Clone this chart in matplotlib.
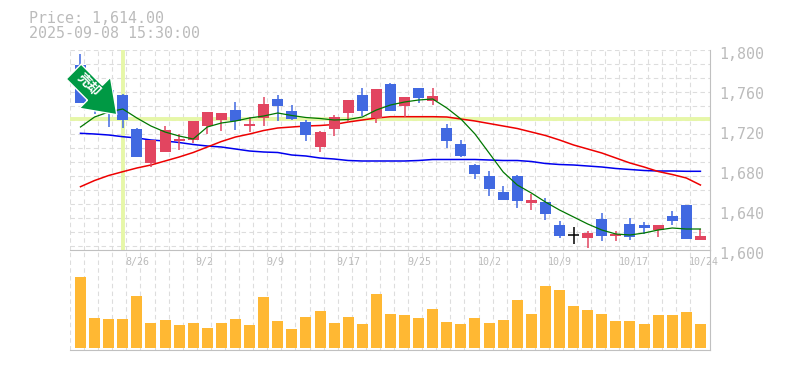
import matplotlib
matplotlib.use('Agg')
import matplotlib.pyplot as plt
from matplotlib.patches import Polygon, Rectangle
from matplotlib.transforms import Affine2D

# 45 daily candles
opens = [1785, 1750, 1760, 1755, 1720.7, 1687.3, 1698.3, 1709, 1710, 1724.3, 1730, 1740, 1724, 1732, 1751,
         1739, 1728, 1703, 1721, 1737, 1755, 1732, 1766, 1744, 1762, 1749, 1722, 1706, 1685, 1674,
         1658, 1674, 1647.3, 1648, 1625, 1615, 1612, 1631, 1614, 1626, 1625, 1620, 1634, 1645, 1610]
closes = [1747, 1740, 1740, 1730, 1693.3, 1710, 1720, 1711, 1729, 1738, 1737, 1729, 1726, 1746, 1744,
          1731, 1715, 1718, 1733, 1750, 1739, 1761, 1739, 1753, 1752, 1754, 1709, 1694, 1676, 1661,
          1650, 1649, 1650, 1636, 1614, 1615, 1617, 1614, 1616, 1613, 1622, 1625, 1629, 1611, 1614]
highs = [1796, 1750, 1760, 1756, 1722, 1710, 1724, 1716, 1729, 1738, 1737, 1747.7, 1732.7, 1753, 1755,
         1745, 1730, 1719, 1735, 1750, 1762, 1761, 1767, 1753, 1762, 1762, 1726, 1710, 1686, 1679,
         1664, 1675, 1656, 1652, 1629, 1623, 1619, 1637, 1619, 1632, 1628, 1625, 1639, 1645, 1621]
lows = [1747, 1736, 1723, 1722, 1693, 1683.3, 1698, 1700, 1707, 1716, 1719, 1720, 1718, 1724, 1729,
        1730, 1709, 1698, 1714, 1728, 1734, 1727, 1739, 1733, 1747, 1745, 1702, 1693, 1671, 1654,
        1650, 1642, 1640, 1630, 1612, 1606, 1602, 1609, 1609, 1610, 1616, 1613, 1625, 1611, 1610]

ma_short = [1723, 1733, 1738, 1741, 1732, 1724, 1718, 1714, 1711, 1723, 1727, 1729, 1732, 1734, 1737,
            1734.5, 1732.5, 1731.5, 1730, 1730.5, 1733, 1740, 1745, 1748, 1750, 1751, 1742, 1731, 1716, 1697,
            1678, 1665, 1657, 1648, 1640, 1633, 1626, 1620, 1616, 1615, 1617, 1620, 1622, 1621, 1621]
ma_mid = [1663.3, 1669.5, 1674.5, 1678.3, 1682, 1685, 1689, 1693, 1697.5, 1703, 1708.5, 1713, 1716, 1719.5, 1722,
          1723, 1724, 1724.5, 1725.5, 1728, 1730, 1732, 1733.3, 1733.3, 1733.3, 1733.3, 1733, 1731, 1729, 1726.5,
          1724, 1721.5, 1718, 1714.5, 1710, 1705, 1701, 1697, 1692, 1687, 1683, 1678.5, 1675.5, 1672, 1665]
ma_long = [1716.7, 1716, 1715, 1713.3, 1712, 1710, 1709, 1707.5, 1705.5, 1704, 1703, 1701, 1699, 1698, 1697.5,
           1695, 1694, 1692, 1691, 1689.5, 1689, 1689, 1689, 1689, 1689.5, 1690.5, 1690.5, 1690.5, 1690.5, 1690,
           1689.5, 1689.5, 1688.5, 1686.5, 1685.5, 1685, 1684, 1683, 1681.5, 1680.5, 1679.5, 1679, 1679, 1678.7, 1678.7]

volumes = [71, 30, 29, 29, 52, 25, 28, 23, 25, 20, 25, 29, 23, 51, 27, 19, 31, 37, 25, 31, 24, 54, 34,
           33, 30, 39, 26, 24, 30, 25, 28, 48, 34, 62, 58, 42, 38, 34, 27, 27, 24, 33, 33, 36, 24]

date_labels = ['8/26', '9/2', '9/9', '9/17', '9/25', '10/2', '10/9', '10/17', '10/24']
date_idx = [4, 9, 14, 19, 24, 29, 34, 39, 44]
price_ticks = [1600, 1640, 1680, 1720, 1760, 1800]

cursor_idx = 3
cursor_price = 1731
arrow_tip = (2.58, 1735.3)

UP = '#e24560'
DOWN = '#4169e1'
GRAY = '#bbbbbb'
GRID = '#dddddd'
CURSOR = '#e6f7a8'

W, H = 785, 370
fig = plt.figure(figsize=(W / 100, H / 100), dpi=100)
price_ax = fig.add_axes([70 / W, 1 - 250 / H, 640 / W, 200 / H])
vol_ax = fig.add_axes([70 / W, 1 - 350 / H, 640 / W, 100 / H])

xlim = (-0.745, 44.68)
grid_x = [k - 0.745 for k in range(45)]
grid_y = [1800 - 14 * k for k in range(15)]

for ax in (price_ax, vol_ax):
    ax.set_xlim(xlim)
    ax.set_xticks([])
    ax.set_yticks([])
    ax.patch.set_alpha(0)
    ax.spines['top'].set_visible(False)
    ax.spines['left'].set_visible(False)
    for s in ('right', 'bottom'):
        ax.spines[s].set_color('#c0c0c0')
        ax.spines[s].set_linewidth(0.8)
    for gx in grid_x:
        ax.axvline(gx, color=GRID, lw=0.8, ls=(0, (4, 3)), zorder=0)

price_ax.set_ylim(1600, 1800)
vol_ax.set_ylim(-2, 98)

for gy in grid_y:
    price_ax.axhline(gy, color=GRID, lw=0.8, ls=(0, (4, 3)), zorder=0)

# cursor lines
price_ax.axhline(cursor_price, color=CURSOR, lw=2.8, zorder=1)
price_ax.axvline(cursor_idx, color=CURSOR, lw=2.8, zorder=1)

for i in range(len(opens)):
    o, c = opens[i], closes[i]
    if o == c:
        color = 'black'
    elif c > o:
        color = UP
    else:
        color = DOWN
    price_ax.plot([i, i], [lows[i], highs[i]], color=color, lw=1.1, zorder=3, solid_capstyle='butt')
    if o == c:
        price_ax.plot([i - 0.39, i + 0.39], [o, o], color=color, lw=1.1, zorder=3, solid_capstyle='butt')
    else:
        price_ax.add_patch(Rectangle((i - 0.39, min(o, c)), 0.78, abs(c - o), facecolor=color, edgecolor='none', zorder=3))

days = range(len(opens))
price_ax.plot(days, ma_long, color='#0000ee', lw=1.1, zorder=2)
price_ax.plot(days, ma_mid, color='#ee0000', lw=1.1, zorder=2)
price_ax.plot(days, ma_short, color='#007700', lw=0.9, zorder=4)

vol_ax.bar(days, volumes, width=0.78, color='#ffb833', zorder=2)

# sell arrow, drawn in pixels around its tip, pointing along +x before the turn
arrow_shape = [(0, 0), (-31, 22), (-31, 10.5), (-61, 10.5), (-61, -10.5), (-31, -10.5), (-31, -22)]
tip_px = price_ax.transData.transform(arrow_tip)
price_ax.add_patch(Polygon(arrow_shape, closed=True, facecolor='#009944', edgecolor='white', lw=1,
                           transform=Affine2D().rotate_deg(-45).translate(*tip_px), clip_on=False, zorder=6))
price_ax.text(0.58, 1765, '売却', rotation=-45, rotation_mode='anchor', ha='center', va='center',
              color='white', fontsize=9.5, fontweight='bold', family=['Noto Sans CJK JP', 'DejaVu Sans'], zorder=7)

mono = 'DejaVu Sans Mono'
for p in price_ticks:
    price_ax.annotate(f'{p:,}', xy=(1, p), xycoords=price_ax.get_yaxis_transform(),
                      xytext=(6.5, -2.9), textcoords='offset points', ha='left', va='center',
                      family=mono, fontsize=10.8, color=GRAY, annotation_clip=False)

for i, lab in zip(date_idx, date_labels):
    vol_ax.annotate(lab, xy=(i, 1), xycoords=vol_ax.get_xaxis_transform(),
                    xytext=(-8.3, -8.3), textcoords='offset points', ha='left', va='center',
                    family=mono, fontsize=7.2, color=GRAY, annotation_clip=False)

fig.text(29 / W, 1 - 18.5 / H, 'Price: 1,614.00', family=mono, fontsize=10.8, color=GRAY, va='center')
fig.text(29 / W, 1 - 33 / H, '2025-09-08 15:30:00', family=mono, fontsize=10.8, color=GRAY, va='center')

fig.savefig('out.png', dpi=100)
